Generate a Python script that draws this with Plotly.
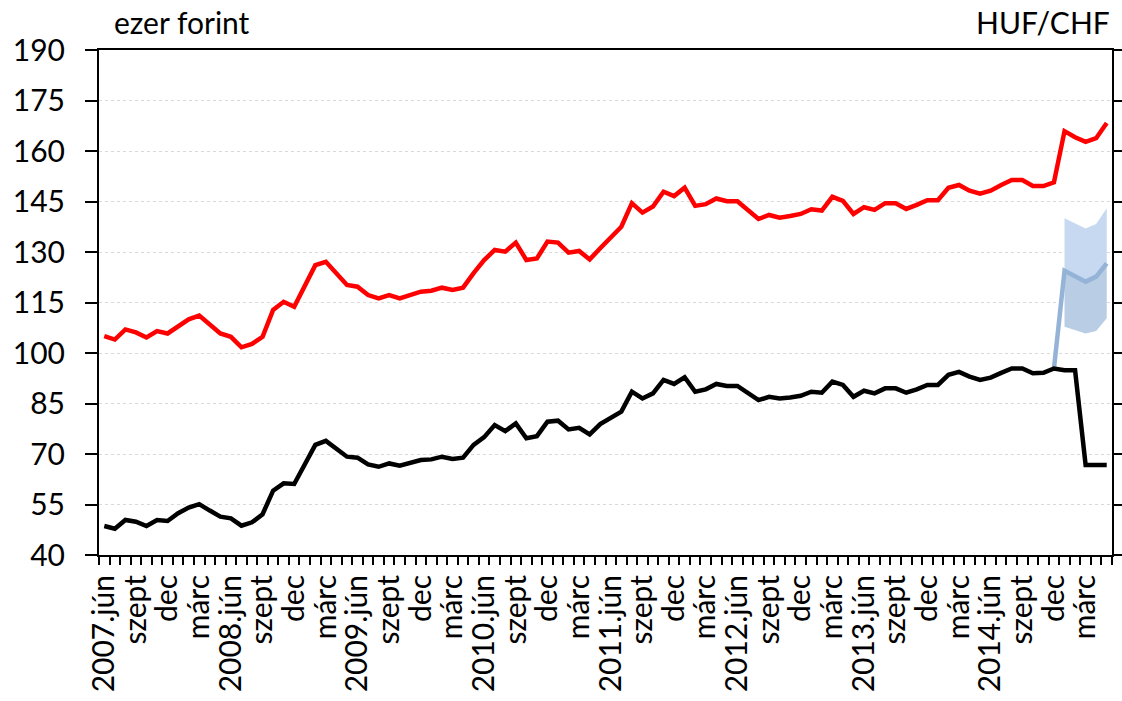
import pandas as pd
import plotly.graph_objects as go

# Monthly observations, 2007 June - 2015 May
months = pd.date_range("2007-06-01", periods=96, freq="MS").strftime("%Y-%m").tolist()

# Month tick labels (one label every three months, blanks between)
quarter_labels = [
    "2007.jún", "szept", "dec", "márc",
    "2008.jún", "szept", "dec", "márc",
    "2009.jún", "szept", "dec", "márc",
    "2010.jún", "szept", "dec", "márc",
    "2011.jún", "szept", "dec", "márc",
    "2012.jún", "szept", "dec", "márc",
    "2013.jún", "szept", "dec", "márc",
    "2014.jún", "szept", "dec", "márc",
]

# HUF/CHF based series (red)
red_series = [
    105.0, 104.0, 107.0, 106.1, 104.6, 106.5, 105.8, 108.0, 110.0, 111.1,
    108.5, 105.8, 104.8, 101.7, 102.7, 104.8, 112.8, 115.2, 113.7, 120.0,
    126.1, 127.1, 123.7, 120.2, 119.7, 117.2, 116.2, 117.2, 116.2, 117.2,
    118.2, 118.5, 119.4, 118.7, 119.4, 123.7, 127.6, 130.6, 130.1, 132.8,
    127.6, 128.1, 133.1, 132.8, 129.8, 130.3, 127.8, 131.1, 134.5, 137.5,
    144.5, 141.7, 143.5, 147.9, 146.6, 149.1, 143.7, 144.2, 145.9, 145.1,
    145.1, 142.5, 139.8, 141.0, 140.2, 140.7, 141.3, 142.7, 142.3, 146.4,
    145.2, 141.3, 143.3, 142.5, 144.5, 144.5, 142.8, 144.0, 145.4, 145.4,
    149.1, 149.9, 148.2, 147.3, 148.2, 149.9, 151.4, 151.4, 149.6, 149.6,
    150.7, 165.9, 164.1, 162.7, 163.8, 168.3,
]

# Instalment in thousand forints (black)
black_series = [
    48.6, 47.8, 50.4, 49.9, 48.6, 50.4, 50.1, 52.4, 54.1, 55.1,
    53.2, 51.4, 50.9, 48.7, 49.7, 52.1, 59.1, 61.3, 61.1, 67.2,
    72.7, 73.9, 71.5, 69.2, 68.9, 66.9, 66.2, 67.2, 66.5, 67.4,
    68.2, 68.4, 69.2, 68.5, 68.9, 72.7, 75.0, 78.6, 76.8, 79.1,
    74.7, 75.3, 79.6, 79.9, 77.3, 77.8, 75.8, 78.9, 80.6, 82.6,
    88.5, 86.5, 88.0, 92.0, 90.8, 92.8, 88.5, 89.2, 90.8, 90.2,
    90.2, 88.0, 86.0, 87.0, 86.5, 86.8, 87.3, 88.5, 88.2, 91.5,
    90.5, 87.0, 88.8, 88.0, 89.5, 89.5, 88.2, 89.2, 90.5, 90.5,
    93.5, 94.4, 93.0, 92.0, 92.7, 94.1, 95.4, 95.4, 94.0, 94.1,
    95.4, 94.9, 94.9, 66.7, 66.7, 66.7,
]

# Scenario path from 2014 Dec, with its upper and lower range from 2015 Jan
scenario_months = ["2014-12", "2015-01", "2015-02", "2015-03", "2015-04", "2015-05"]
scenario_mid = [95.4, 124.4, 122.8, 121.2, 122.7, 126.6]
band_months = ["2015-01", "2015-02", "2015-03", "2015-04", "2015-05"]
band_upper = [140.0, 138.5, 137.0, 138.3, 143.0]
band_mid = [124.4, 122.8, 121.2, 122.7, 126.6]
band_lower = [107.8, 106.8, 105.8, 106.5, 110.3]

ticktext = []
k = 0
for i, m in enumerate(months):
    if i % 3 == 0:
        ticktext.append(quarter_labels[k])
        k += 1
    else:
        ticktext.append("")

FONT = "Lato"
FS = 30
fig = go.Figure()

fig.add_trace(go.Scatter(x=band_months, y=band_lower, mode="lines",
                         line=dict(width=0), showlegend=False, hoverinfo="skip"))
fig.add_trace(go.Scatter(x=band_months, y=band_mid, mode="lines", fill="tonexty",
                         fillcolor="#b9cde5", line=dict(width=0),
                         showlegend=False, hoverinfo="skip"))
fig.add_trace(go.Scatter(x=band_months, y=band_upper, mode="lines", fill="tonexty",
                         fillcolor="#c6d9f1", line=dict(width=0),
                         showlegend=False, hoverinfo="skip"))
fig.add_trace(go.Scatter(x=scenario_months, y=scenario_mid, mode="lines",
                         line=dict(color="#95b3d7", width=4.5), showlegend=False))
fig.add_trace(go.Scatter(x=months, y=red_series, mode="lines",
                         line=dict(color="#ff0000", width=4.5), showlegend=False))
fig.add_trace(go.Scatter(x=months, y=black_series, mode="lines",
                         line=dict(color="#000000", width=4.5), showlegend=False))

fig.update_layout(
    width=1122, height=701,
    margin=dict(l=99, r=10, t=50, b=146, autoexpand=False),
    paper_bgcolor="white", plot_bgcolor="white",
    font=dict(family=FONT, size=FS, color="black"),
    annotations=[
        dict(text="ezer forint", x=0.013, y=1.0, xref="paper", yref="paper",
             xanchor="left", yanchor="bottom", yshift=8, showarrow=False,
             font=dict(size=FS)),
        dict(text="HUF/CHF", x=1.0, y=1.0, xref="paper", yref="paper",
             xanchor="right", yanchor="bottom", yshift=8, showarrow=False,
             font=dict(size=FS)),
    ],
)

fig.update_xaxes(
    type="category", categoryorder="array", categoryarray=months,
    range=[-0.5, len(months) - 0.5], automargin=False,
    tickmode="array", tickvals=months, ticktext=ticktext,
    tickangle=-90, tickson="boundaries", ticks="outside", ticklen=8,
    tickwidth=1.5, tickcolor="black", ticklabelstandoff=6,
    showline=True, linecolor="black", linewidth=2, mirror=True,
    showgrid=False, tickfont=dict(size=FS),
)
fig.update_yaxes(
    range=[40, 190], tickmode="array", tickvals=list(range(40, 191, 15)),
    ticks="outside", ticklen=12, tickwidth=2, tickcolor="black", automargin=False,
    showline=True, linecolor="black", linewidth=2, mirror="ticks",
    showgrid=True, gridcolor="#d9d9d9", griddash="dot", gridwidth=1,
    zeroline=False, tickfont=dict(size=FS), ticklabelstandoff=14,
)

fig.write_html("out.html")
